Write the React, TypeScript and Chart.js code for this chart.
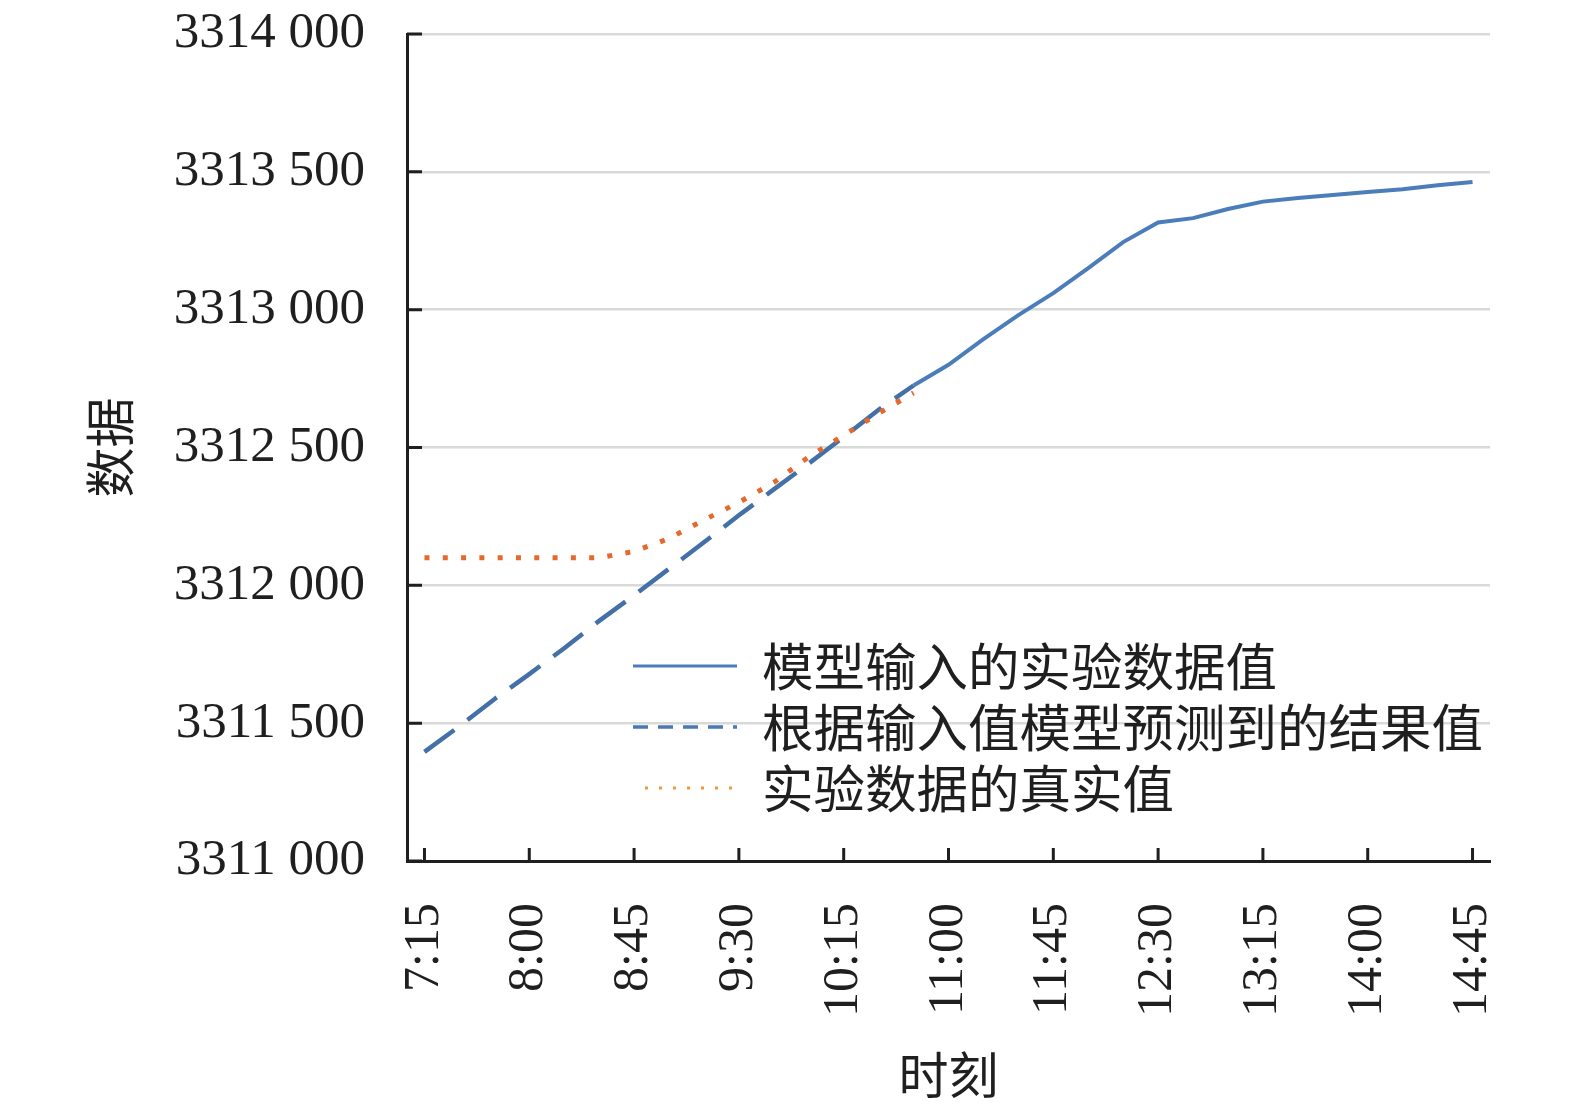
import { useEffect, useRef } from "react";
import { Chart, registerables } from "chart.js";

Chart.register(...registerables);

// 15-minute readings, 7:15 to 14:45
const TIMES = [
  "7:15", "7:30", "7:45", "8:00", "8:15", "8:30", "8:45", "9:00", "9:15", "9:30", "9:45",
  "10:00", "10:15", "10:30", "10:45", "11:00", "11:15", "11:30", "11:45", "12:00", "12:15",
  "12:30", "12:45", "13:00", "13:15", "13:30", "13:45", "14:00", "14:15", "14:30", "14:45",
];

const INPUT_VALUES = [
  null, null, null, null, null, null, null, null, null, null, null, null, null, null,
  3312725, 3312800, 3312893, 3312980, 3313060, 3313151, 3313245, 3313316, 3313332,
  3313365, 3313392, 3313405, 3313416, 3313427, 3313437, 3313451, 3313463,
];

const PREDICTED_VALUES = [
  3311396, 3311489, 3311587, 3311678, 3311772, 3311871, 3311964, 3312060, 3312156,
  3312254, 3312348, 3312442, 3312538, 3312637, 3312725,
  null, null, null, null, null, null, null, null, null, null, null, null, null, null, null, null,
];

const ACTUAL_VALUES = [
  3312100, 3312100, 3312100, 3312100, 3312100, 3312100, 3312123, 3312170, 3312237,
  3312301, 3312373, 3312466, 3312544, 3312624, 3312698,
  null, null, null, null, null, null, null, null, null, null, null, null, null, null, null, null,
];

const SERIES_NAMES = ["模型输入的实验数据值", "根据输入值模型预测到的结果值", "实验数据的真实值"];

const Y_MIN = 3311000;
const Y_MAX = 3314000;
const Y_STEP = 500;

const LATIN = "'Liberation Serif', 'Noto Sans CJK SC', serif";
const CJK = "'Noto Sans CJK SC', sans-serif";
const INK = "#1f1f1f";

const legendStyles = [
  { color: "#4A7DBA", dash: [] as number[], width: 3 },
  { color: "#4A78B0", dash: [15, 10], width: 3.5 },
  { color: "#EE9A3A", dash: [3, 11], width: 3 },
];

// legend sits inside the plot, below the curves
const insideLegend = {
  id: "insideLegend",
  afterDraw(chart: Chart) {
    const { ctx } = chart;
    ctx.save();
    SERIES_NAMES.forEach((name, i) => {
      const y = 666 + i * 61;
      const s = legendStyles[i];
      ctx.beginPath();
      ctx.setLineDash(s.dash);
      ctx.lineWidth = s.width;
      ctx.strokeStyle = s.color;
      ctx.moveTo(i === 2 ? 645 : 633, y);
      ctx.lineTo(737, y);
      ctx.stroke();
      ctx.setLineDash([]);
      ctx.fillStyle = INK;
      ctx.font = `51.5px ${CJK}`;
      ctx.textBaseline = "middle";
      ctx.textAlign = "left";
      ctx.fillText(name, 762, y);
    });
    ctx.restore();
  },
};

// tick marks point into the plot area
const innerTicks = {
  id: "innerTicks",
  afterDatasetsDraw(chart: Chart) {
    const { ctx, chartArea, scales } = chart;
    ctx.save();
    ctx.strokeStyle = INK;
    ctx.lineWidth = 3;
    ctx.beginPath();
    for (let v = Y_MIN; v <= Y_MAX; v += Y_STEP) {
      const py = scales.y.getPixelForValue(v);
      ctx.moveTo(chartArea.left, py);
      ctx.lineTo(chartArea.left + 15, py);
    }
    for (let i = 0; i < TIMES.length; i += 3) {
      const px = scales.x.getPixelForValue(i);
      ctx.moveTo(px, chartArea.bottom);
      ctx.lineTo(px, chartArea.bottom - 13);
    }
    ctx.stroke();
    ctx.restore();
  },
};

function fmt(v: number) {
  const s = String(v);
  return s.slice(0, -3) + " " + s.slice(-3);
}

export default function App() {
  const canvasRef = useRef<HTMLCanvasElement>(null);

  useEffect(() => {
    if (!canvasRef.current) return;

    const chart = new Chart(canvasRef.current, {
      type: "line",
      data: {
        labels: TIMES,
        datasets: [
          {
            label: SERIES_NAMES[0],
            data: INPUT_VALUES,
            borderColor: "#4A7DBA",
            borderWidth: 4,
            pointRadius: 0,
            tension: 0,
            order: 2,
          },
          {
            label: SERIES_NAMES[1],
            data: PREDICTED_VALUES,
            borderColor: "#4470A8",
            borderWidth: 4.5,
            borderDash: [37, 16.5],
            pointRadius: 0,
            tension: 0,
            order: 1,
          },
          {
            label: SERIES_NAMES[2],
            data: ACTUAL_VALUES,
            borderColor: "#E5692D",
            borderWidth: 5,
            borderDash: [5, 13.3],
            borderCapStyle: "butt",
            pointRadius: 0,
            tension: 0,
            order: 0,
          },
        ],
      },
      options: {
        responsive: false,
        animation: false,
        layout: { padding: { top: 34, right: 85, left: 0, bottom: 0 } },
        plugins: {
          legend: { display: false },
          tooltip: { enabled: false },
        },
        scales: {
          x: {
            type: "category",
            offset: true,
            // invisible tick marks only push the labels away from the axis
            grid: { display: true, color: "transparent", tickColor: "transparent", drawTicks: true, tickLength: 42 },
            border: { display: true, color: INK, width: 3 },
            ticks: {
              autoSkip: false,
              minRotation: 90,
              maxRotation: 90,
              padding: 0,
              color: INK,
              font: { family: LATIN, size: 50 },
              callback: (_v, i) => (i % 3 === 0 ? TIMES[i] : ""),
            },
            title: {
              display: true,
              text: "时刻",
              color: INK,
              font: { family: CJK, size: 50 },
              padding: { top: 0, bottom: 2 },
            },
            afterFit: (s: any) => {
              s.height = 246;
            },
          },
          y: {
            min: Y_MIN,
            max: Y_MAX,
            grid: { color: "#D9D9D9", lineWidth: 2.5, drawTicks: true, tickLength: 42, tickColor: "transparent" },
            border: { display: true, color: INK, width: 3 },
            ticks: {
              stepSize: Y_STEP,
              padding: 0,
              color: INK,
              font: { family: LATIN, size: 51 },
              callback: (v) => fmt(Number(v)),
            },
            title: {
              display: true,
              text: "数据",
              color: INK,
              font: { family: CJK, size: 50 },
              padding: { top: 80, bottom: 0 },
            },
            afterFit: (s: any) => {
              s.width = 407;
            },
          },
        },
      },
      plugins: [innerTicks, insideLegend],
    });

    return () => {
      chart.destroy();
    };
  }, []);

  return (
    <div style={{ position: "absolute", left: 0, top: 0, width: 1575, height: 1107, background: "#fff" }}>
      <canvas ref={canvasRef} width={1575} height={1107} />
    </div>
  );
}
